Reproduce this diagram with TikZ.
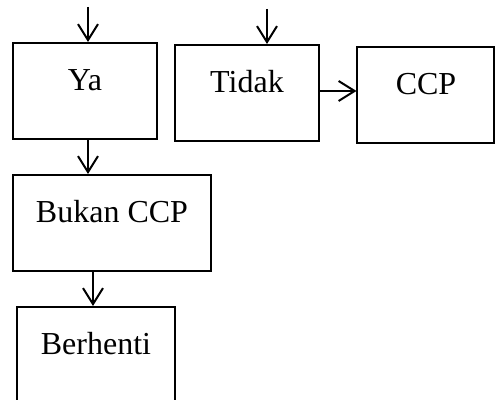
\documentclass[tikz,border=0pt]{standalone}
\usepackage{fontspec}
\setmainfont{Liberation Serif}
\usetikzlibrary{arrows.meta, positioning, calc}
\tikzstyle{box} = [rectangle, draw, line width=1pt, inner sep=0pt, text height=24pt, text depth=24pt, font=\fontsize{16}{19}\selectfont]
\tikzstyle{arr} = [line width=1pt, -{Straight Barb[length=8pt, width=10pt, line width=1pt]}]

\begin{document}
\begin{tikzpicture}[x=0.5pt, y=-0.5pt]
        \useasboundingbox (0,0) rectangle (495,400);

        % Boxes
        \node[box, minimum width=72pt] (ya) at (85,91) {Ya};
        \node[box, minimum width=72pt] (tidak) at (247,93) {Tidak};
        \node[box, minimum width=68.5pt] (ccp) at (426,95) {CCP};
        \node[box, minimum width=99pt] (bukan) at (112,223) {Bukan CCP};
        \node[box, minimum width=79pt] (berhenti) at (96,355) {Berhenti};

        % Incoming ends
        \coordinate (inya) at (88,7);
        \coordinate (intidak) at (267,9);

        % Arrows
        \draw[arr] (inya) -- (inya |- ya.north);
        \draw[arr] (intidak) -- (intidak |- tidak.north);
        \draw[arr] ([yshift=1pt]tidak.east) -- ([yshift=1pt]tidak.east -| ccp.west);
        \draw[arr] ([xshift=1.5pt]ya.south) -- ([xshift=1.5pt]ya.south |- bukan.north);
        \draw[arr] ([xshift=-1.5pt]berhenti.north |- bukan.south) -- ([xshift=-1.5pt]berhenti.north);

    \end{tikzpicture}
\end{document}
